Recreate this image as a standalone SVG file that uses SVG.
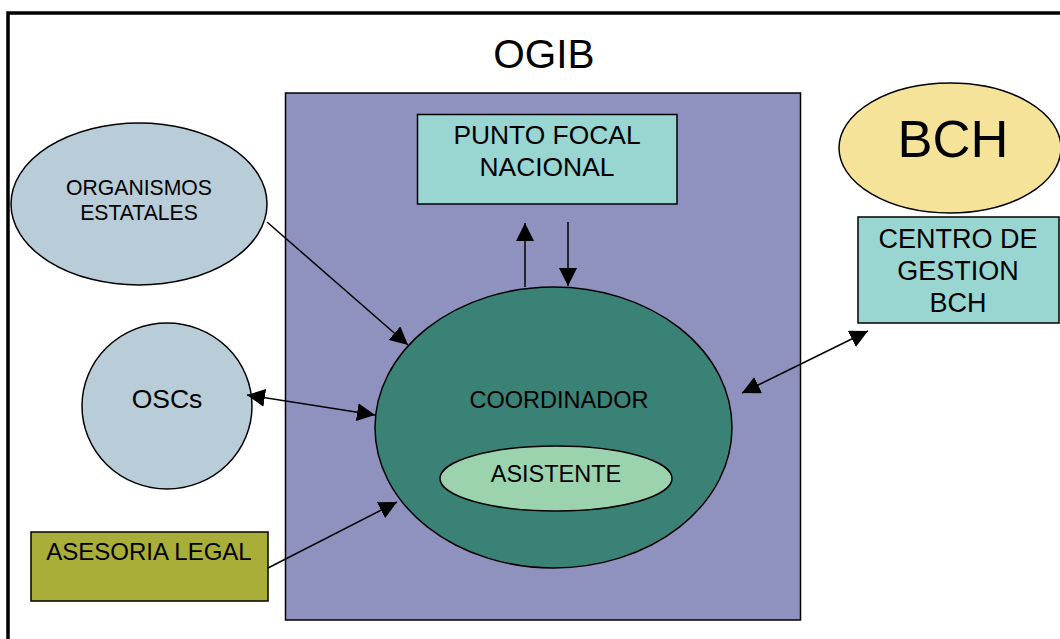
<svg xmlns="http://www.w3.org/2000/svg" width="1060" height="639" viewBox="0 0 1060 639">
<style>
text{font-family:"Liberation Sans",Arial,sans-serif;fill:#000;text-anchor:middle}
.s{stroke:#000;stroke-width:1.5}
.c{stroke:#000;stroke-width:1.5;fill:none}
</style>
<defs>
<marker id="ah" markerUnits="userSpaceOnUse" markerWidth="18" markerHeight="18" viewBox="0 0 18 18" refX="18" refY="9" orient="auto-start-reverse">
<path d="M0,0 L18,9 L0,18 z" fill="#000"/>
</marker>
</defs>
<rect width="1060" height="639" fill="#fff"/>
<path d="M8,640 L8,13 L1062,13" fill="none" stroke="#000" stroke-width="3.5"/>
<text x="544" y="68" font-size="40.5">OGIB</text>
<g id="ogib">
<rect class="s" x="285.5" y="93" width="515" height="527" fill="#8F92BF"/>
</g>
<g id="punto-focal">
<rect class="s" x="417.5" y="114.5" width="259.5" height="89.5" fill="#99D5D1"/>
<text x="547" y="144" font-size="26.4">PUNTO FOCAL</text>
<text x="547" y="176" font-size="26.4">NACIONAL</text>
</g>
<g id="bch">
<ellipse class="s" cx="950" cy="148" rx="111" ry="65" fill="#F5E39A"/>
<text x="953" y="157" font-size="52.5">BCH</text>
</g>
<g id="centro">
<rect class="s" x="858" y="217" width="201" height="106" fill="#99D5D1"/>
<text x="958" y="248" font-size="27">CENTRO DE</text>
<text x="958" y="280" font-size="27">GESTION</text>
<text x="958" y="312" font-size="27">BCH</text>
</g>
<g id="organismos">
<ellipse class="s" cx="139" cy="204" rx="128" ry="81" fill="#B8CDD8"/>
<text x="139" y="195" font-size="21.2">ORGANISMOS</text>
<text x="139" y="220" font-size="21.2">ESTATALES</text>
</g>
<g id="oscs">
<ellipse class="s" cx="167" cy="406" rx="85" ry="83" fill="#B8CDD8"/>
<text x="167" y="408" font-size="26.5">OSCs</text>
</g>
<g id="asesoria">
<rect class="s" x="31" y="532" width="237" height="69" fill="#A9AE38"/>
<text x="149" y="560" font-size="24">ASESORIA LEGAL</text>
</g>
<g id="coordinador">
<ellipse class="s" cx="553.5" cy="427.5" rx="178.5" ry="140.5" fill="#3A8276"/>
<text x="559" y="408" font-size="23.5">COORDINADOR</text>
</g>
<g id="asistente">
<ellipse class="s" cx="556" cy="478.5" rx="116" ry="32.5" fill="#9BD3AE"/>
<text x="556" y="482" font-size="23.5">ASISTENTE</text>
</g>
<g id="connectors">
<line class="c" x1="267" y1="222" x2="408" y2="345" marker-end="url(#ah)"/>
<line class="c" x1="247" y1="395" x2="375" y2="415" marker-start="url(#ah)" marker-end="url(#ah)"/>
<line class="c" x1="268" y1="568" x2="397" y2="502" marker-end="url(#ah)"/>
<line class="c" x1="525" y1="287" x2="525" y2="223" marker-end="url(#ah)"/>
<line class="c" x1="568" y1="222" x2="568" y2="286" marker-end="url(#ah)"/>
<line class="c" x1="742" y1="393" x2="868" y2="331" marker-start="url(#ah)" marker-end="url(#ah)"/>
</g>
</svg>
